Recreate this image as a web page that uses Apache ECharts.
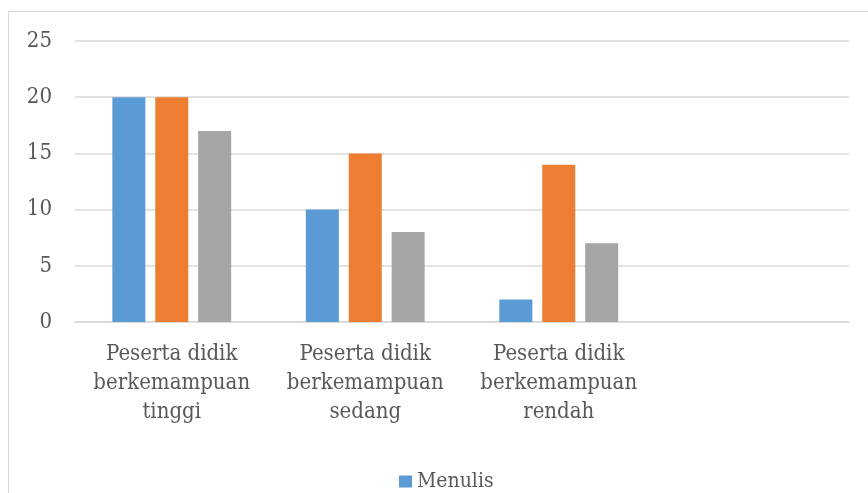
<!DOCTYPE html>
<html>
<head>
<meta charset="utf-8">
<script src="https://cdn.jsdelivr.net/npm/echarts@6/dist/echarts.min.js"></script>
<style>
  html, body { margin: 0; padding: 0; background: #fff; }
  #frame {
    position: absolute; left: 8px; top: 11px; width: 900px; height: 520px;
    border-left: 1.5px solid #d9d9d9; border-top: 1.5px solid #d9d9d9;
  }
  #main { position: absolute; left: 0; top: 0; width: 868px; height: 493px; }
</style>
</head>
<body>
<div id="frame"></div>
<div id="main"></div>
<script>
const categories = [
  "Peserta didik\nberkemampuan\ntinggi",
  "Peserta didik\nberkemampuan\nsedang",
  "Peserta didik\nberkemampuan\nrendah",
  ""
];
const menulis = [20, 10, 2, null];
const seri2 = [20, 15, 14, null];
const seri3 = [17, 8, 7, null];
const yTicks = [0, 5, 10, 15, 20, 25];

const myChart = echarts.init(document.getElementById("main"));
const fontFam = "'DejaVu Serif Condensed', 'DejaVu Serif', serif";

const option = {
  animation: false,
  grid: { left: 75, right: 19, top: 41, bottom: 171 },
  legend: {
    data: ["Menulis"],
    top: 466,
    left: 394,
    itemWidth: 13,
    itemHeight: 12,
    itemGap: 4,
    icon: "rect",
    textStyle: { fontFamily: fontFam, fontSize: 21, color: "#595959" },
  },
  xAxis: {
    type: "category",
    data: categories,
    axisTick: { show: false },
    axisLine: { lineStyle: { color: "#d9d9d9", width: 1.5 } },
    axisLabel: {
      interval: 0,
      margin: 18,
      fontFamily: fontFam,
      fontSize: 22,
      lineHeight: 29,
      color: "#595959",
    },
  },
  yAxis: {
    type: "value",
    min: yTicks[0],
    max: yTicks[yTicks.length - 1],
    interval: 5,
    axisLine: { show: false },
    axisTick: { show: false },
    splitLine: { lineStyle: { color: "#d9d9d9", width: 1.5 } },
    axisLabel: {
      margin: 23,
      fontFamily: fontFam,
      fontSize: 22,
      color: "#595959",
    },
  },
  series: [
    {
      name: "Menulis",
      type: "bar",
      data: menulis,
      barWidth: 33,
      barGap: "30%",
      itemStyle: { color: "#5B9BD5" },
    },
    {
      name: "Seri 2",
      type: "bar",
      data: seri2,
      barWidth: 33,
      itemStyle: { color: "#ED7D31" },
    },
    {
      name: "Seri 3",
      type: "bar",
      data: seri3,
      barWidth: 33,
      itemStyle: { color: "#A5A5A5" },
    },
  ],
};
myChart.setOption(option);
</script>
</body>
</html>
